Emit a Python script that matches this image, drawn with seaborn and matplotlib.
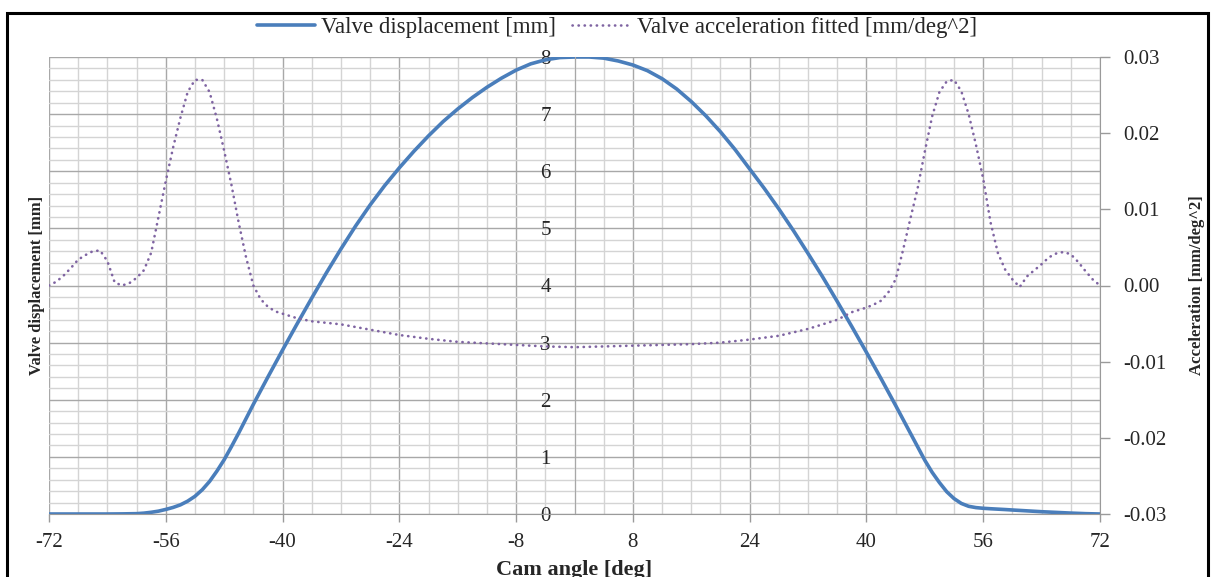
import matplotlib
matplotlib.use("Agg")
import matplotlib.pyplot as plt
import numpy as np
import pandas as pd
import seaborn as sns
from matplotlib.patches import Rectangle
from matplotlib.ticker import FormatStrFormatter
from matplotlib.font_manager import FontProperties

# ---- data -------------------------------------------------------------
# valve lift: 2 deg steps, 1 deg steps around the ramps
cam_angle_disp = (list(range(-72, -60, 2)) + list(range(-60, -43))
                  + list(range(-42, 43, 2)) + list(range(44, 61))
                  + list(range(62, 73, 2)))
valve_disp = [0, 0, 0, 0, 0, 0.002,
              0.006, 0.015, 0.03, 0.05, 0.08, 0.115, 0.16, 0.225, 0.31,
              0.425, 0.57, 0.75, 0.95, 1.18, 1.42, 1.67, 1.92,
              2.40, 2.87, 3.33, 3.78, 4.22, 4.64, 5.04, 5.41, 5.75, 6.06,
              6.35, 6.62, 6.87, 7.09, 7.29, 7.47, 7.63, 7.77, 7.88, 7.95,
              7.99,
              8.00,
              8.00, 7.98, 7.93, 7.86, 7.76, 7.62, 7.44, 7.22, 6.97, 6.69,
              6.38, 6.04, 5.70, 5.34, 4.96, 4.56, 4.15, 3.72, 3.28, 2.83,
              2.37,
              1.90, 1.66, 1.42, 1.18, 0.94, 0.73, 0.55, 0.39, 0.27, 0.185,
              0.135, 0.112, 0.10, 0.092, 0.085, 0.078, 0.07,
              0.055, 0.04, 0.028, 0.016, 0.006, 0.0]

cam_angle_acc = list(range(-72, -35)) + list(range(-32, 33, 4)) + list(range(36, 73))
valve_acc = [0.0000, 0.0005, 0.0013, 0.0023, 0.0034, 0.0040, 0.0045, 0.0046,
             0.0032, 0.0004, 0.0000, 0.0003, 0.0010, 0.0020, 0.0043, 0.0090,
             0.0137, 0.0181, 0.0220, 0.0254, 0.0270, 0.0270, 0.0254, 0.0219,
             0.0177, 0.0132, 0.0082, 0.0037, 0.0000, -0.0018, -0.0028,
             -0.0034, -0.0037, -0.0040, -0.0043, -0.0045, -0.0047,
             -0.0051, -0.0058, -0.0065, -0.0070, -0.0074, -0.0076, -0.0078,
             -0.0080, -0.0081, -0.0080, -0.0079, -0.0078, -0.0077, -0.0075,
             -0.0071, -0.0066, -0.0057,
             -0.0045, -0.0040, -0.0035, -0.0032, -0.0029, -0.0025, -0.0020,
             -0.0009, 0.0008, 0.0046, 0.0087, 0.0127, 0.0176, 0.0222,
             0.0254, 0.0268, 0.0270, 0.0255, 0.0225, 0.0185, 0.0140, 0.0083,
             0.0043, 0.0021, 0.0008, -0.0002, 0.0012, 0.0020, 0.0028, 0.0037,
             0.0042, 0.0044, 0.0041, 0.0031, 0.0019, 0.0008, 0.0000]

x_ticks = list(range(-72, 73, 16))
disp_ticks = list(range(0, 9))
acc_ticks = [-0.03, -0.02, -0.01, 0.00, 0.01, 0.02, 0.03]

disp_label = "Valve displacement [mm]"
acc_label = "Valve acceleration fitted [mm/deg^2]"

df_disp = pd.DataFrame({"angle": cam_angle_disp, "disp": valve_disp})
df_acc = pd.DataFrame({"angle": cam_angle_acc, "acc": valve_acc})

# ---- style ------------------------------------------------------------
sns.set_style("white")
plt.rcParams["font.family"] = ["Liberation Serif", "DejaVu Serif"]
plt.rcParams["axes.unicode_minus"] = False

BLUE = "#4A7EBB"
PURPLE = "#7F64A2"
AXIS_GRAY = "#9A9A9A"
MAJOR_GRID = "#A8A8A8"
MINOR_GRID = "#D4D4D4"

W, H = 1213, 577
fig = plt.figure(figsize=(W / 100, H / 100), dpi=100)
ax = fig.add_axes([49 / W, 1 - 514 / H, 1051 / W, 457 / H])
ax2 = ax.twinx()

# displacement on the primary axis
sns.lineplot(data=df_disp, x="angle", y="disp", ax=ax, color=BLUE,
             linewidth=2.6, label=disp_label, legend=False)
# fitted acceleration on the secondary axis
sns.lineplot(data=df_acc, x="angle", y="acc", ax=ax2, color=PURPLE,
             linewidth=1.9, linestyle=(0, (0.1, 2.2)), label=acc_label,
             legend=False)
for line in ax.get_lines():
    line.set_solid_joinstyle("round")
for line in ax2.get_lines():
    line.set_dash_capstyle("round")

ax.set_xlim(-72, 72)
ax.set_ylim(0, 8)
ax2.set_ylim(-0.03, 0.03)

# ticks and grid
ax.set_xticks(x_ticks)
ax.set_xticks(np.arange(-72, 73, 4), minor=True)
ax.set_xticklabels([str(t) for t in x_ticks])
ax.set_yticks(disp_ticks)
ax.set_yticks(np.arange(0, 8.01, 0.2), minor=True)

ax.grid(which="minor", color=MINOR_GRID, linewidth=1.0)
ax.grid(which="major", color=MAJOR_GRID, linewidth=1.0)
ax.set_axisbelow(True)

tick_fp = 15
ax.tick_params(axis="x", which="major", direction="out", length=6,
               width=1, color=AXIS_GRAY, labelsize=tick_fp, pad=8,
               bottom=True)
ax.tick_params(axis="y", which="major", length=0, labelsize=tick_fp, pad=17,
               left=True)
ax.tick_params(which="minor", length=0)

# primary vertical axis crosses at 0 degrees
ax.spines["left"].set_position(("data", 0))
ax.spines["left"].set_color(MAJOR_GRID)
ax.spines["bottom"].set_color(AXIS_GRAY)
ax.spines["top"].set_visible(False)
ax.spines["right"].set_visible(False)

ax2.set_yticks(acc_ticks)
ax2.yaxis.set_major_formatter(FormatStrFormatter("%.2f"))
ax2.tick_params(axis="y", direction="out", length=7, width=1,
                color=AXIS_GRAY, labelsize=tick_fp, pad=10, right=True)
for side in ["left", "top", "bottom"]:
    ax2.spines[side].set_visible(False)
ax2.spines["right"].set_color(AXIS_GRAY)
ax2.grid(False)

# axis titles
ax.set_xlabel("Cam angle [deg]", fontsize=16, fontweight="bold")
ax.xaxis.set_label_coords(0.5, -46 / 457)
ax.set_ylabel(disp_label, fontsize=12, fontweight="bold")
ax.yaxis.set_label_coords(-4 / 1051, 0.5)
ax2.set_ylabel("Acceleration [mm/deg^2]", fontsize=12, fontweight="bold")
ax2.yaxis.set_label_coords(1 + 89 / 1051, 0.5)

# legend above the plot
handles = ax.get_lines()[:1] + ax2.get_lines()[:1]
fig.legend(handles, [disp_label, acc_label], loc="center",
           bbox_to_anchor=(617 / W, 1 - 27 / H), ncol=2, frameon=False,
           handlelength=2.5, handletextpad=0.3, columnspacing=0.7,
           prop=FontProperties(family="Liberation Serif", size=16.5))

# chart area border
fig.add_artist(Rectangle((7 / W, -0.1), 1201 / W, 0.1 + 1 - 13 / H,
                         transform=fig.transFigure, fill=False,
                         edgecolor="black", linewidth=2.2, clip_on=False))

fig.savefig("out.png", dpi=100)
